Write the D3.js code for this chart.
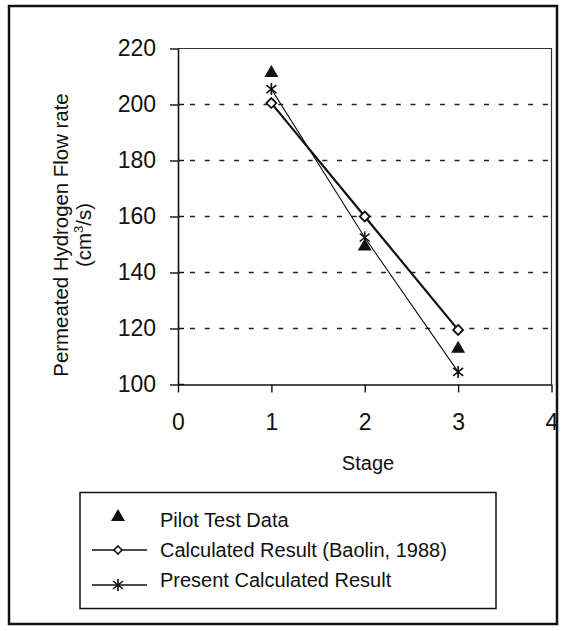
<!DOCTYPE html>
<html><head><meta charset="utf-8">
<script src="https://cdn.jsdelivr.net/npm/d3@7"></script>
<style>
html,body{margin:0;padding:0;background:#fff;}
text{font-family:"Liberation Sans",Arial,Helvetica,sans-serif;fill:#111;}
</style></head>
<body>
<svg id="chart" width="561" height="631"></svg>
<script>
// Data
const stages = [1, 2, 3];
const pilotTest = [212, 150, 113.5];
const baolin = [200.5, 160, 119.5];
const present = [205.5, 152.5, 104.5];
const xTicks = [0, 1, 2, 3, 4];
const yTicks = [100, 120, 140, 160, 180, 200, 220];
const gridValues = [120, 140, 160, 180, 200];
const legendLabels = ["Pilot Test Data", "Calculated Result (Baolin, 1988)", "Present Calculated Result"];

const svg = d3.select("#chart");
const L = 178, R = 551.5, T = 48.5, B = 384.5;
const x = d3.scaleLinear().domain([0, 4]).range([L, R]);
const y = d3.scaleLinear().domain([100, 220]).range([B, T]);

// outer frame
svg.append("rect").attr("x", 9).attr("y", 6).attr("width", 548).attr("height", 618)
  .attr("fill", "none").attr("stroke", "#111").attr("stroke-width", 2.5);

// plot box top/right
svg.append("path").attr("d", `M${L},${T}H${R}V${B}`).attr("fill", "none")
  .attr("stroke", "#333").attr("stroke-width", 1.2);

// grid
svg.append("g").selectAll("line").data(gridValues).join("line")
  .attr("x1", L).attr("x2", R).attr("y1", d => y(d)).attr("y2", d => y(d))
  .attr("stroke", "#222").attr("stroke-width", 1.3).attr("stroke-dasharray", "5,9.7")
  .attr("stroke-dashoffset", -12);

// axes
const yAxis = svg.append("g").attr("transform", `translate(${L},0)`)
  .call(d3.axisLeft(y).tickValues(yTicks).tickFormat(d3.format("d")).tickSize(8).tickPadding(14).tickSizeOuter(0));
const xAxis = svg.append("g").attr("transform", `translate(0,${B})`)
  .call(d3.axisBottom(x).tickValues(xTicks).tickFormat(d3.format("d")).tickSize(8).tickPadding(21).tickSizeOuter(0));
[yAxis, xAxis].forEach(a => {
  a.select(".domain").attr("stroke", "#111").attr("stroke-width", 1.6);
  a.selectAll(".tick line").attr("stroke", "#111").attr("stroke-width", 1.4);
  a.selectAll("text").style("font-size", "23px").attr("fill", "#111");
});
// small right-side part of y cross ticks
svg.append("g").selectAll("line").data(yTicks.filter(d => d < 220)).join("line")
  .attr("x1", L).attr("x2", L + 6).attr("y1", d => y(d)).attr("y2", d => y(d))
  .attr("stroke", "#111").attr("stroke-width", 1.4);

// axis titles
svg.append("text").attr("x", 368).attr("y", 470).attr("text-anchor", "middle")
  .style("font-size", "20px").text("Stage");
const yt = svg.append("g").attr("transform", "translate(68,235) rotate(-90)");
yt.append("text").attr("x", 0).attr("y", 0).attr("text-anchor", "middle")
  .style("font-size", "20.4px").text("Permeated Hydrogen Flow rate");
const yt2 = yt.append("text").attr("x", 0).attr("y", 23).attr("text-anchor", "middle")
  .style("font-size", "20.4px");
yt2.append("tspan").text("(cm");
yt2.append("tspan").attr("dy", -8).style("font-size", "13px").text("3");
yt2.append("tspan").attr("dy", 8).text("/s)");

// marker shapes
const triPath = "M0,-6L7,6L-7,6Z";
const diaPath = "M0,-5L5,0L0,5L-5,0Z";
const starPath = "M0,-6V6M-5,-4L5,4M-5,4L5,-4";

// lines
const line = d3.line().x((d, i) => x(stages[i])).y(d => y(d));
svg.append("path").attr("d", line(baolin)).attr("fill", "none")
  .attr("stroke", "#111").attr("stroke-width", 2.2);
svg.append("path").attr("d", line(present)).attr("fill", "none")
  .attr("stroke", "#111").attr("stroke-width", 1.1);

// markers
svg.append("g").selectAll("path").data(baolin).join("path")
  .attr("d", diaPath).attr("transform", (d, i) => `translate(${x(stages[i])},${y(d)})`)
  .attr("fill", "#fff").attr("stroke", "#111").attr("stroke-width", 1.8);
svg.append("g").selectAll("path").data(present).join("path")
  .attr("d", starPath).attr("transform", (d, i) => `translate(${x(stages[i])},${y(d)})`)
  .attr("fill", "none").attr("stroke", "#111").attr("stroke-width", 1.6);
svg.append("g").selectAll("path").data(pilotTest).join("path")
  .attr("d", triPath).attr("transform", (d, i) => `translate(${x(stages[i])},${y(d)})`)
  .attr("fill", "#111");

// legend
const lg = svg.append("g");
lg.append("rect").attr("x", 80).attr("y", 492.5).attr("width", 416).attr("height", 116)
  .attr("fill", "#fff").attr("stroke", "#111").attr("stroke-width", 1.5);
const rowsY = [527, 557, 587];
legendLabels.forEach((t, i) => {
  lg.append("text").attr("x", 160).attr("y", rowsY[i]).style("font-size", "20px").text(t);
});
lg.append("path").attr("d", triPath).attr("transform", "translate(118,515)").attr("fill", "#111");
lg.append("line").attr("x1", 92).attr("x2", 147).attr("y1", 550).attr("y2", 550)
  .attr("stroke", "#111").attr("stroke-width", 1.6);
lg.append("path").attr("d", "M0,-4L4,0L0,4L-4,0Z").attr("transform", "translate(118,550)")
  .attr("fill", "#fff").attr("stroke", "#111").attr("stroke-width", 1.6);
lg.append("line").attr("x1", 92).attr("x2", 147).attr("y1", 585).attr("y2", 585)
  .attr("stroke", "#111").attr("stroke-width", 1.3);
lg.append("path").attr("d", starPath).attr("transform", "translate(118,585)")
  .attr("fill", "none").attr("stroke", "#111").attr("stroke-width", 1.6);
</script>
</body></html>
